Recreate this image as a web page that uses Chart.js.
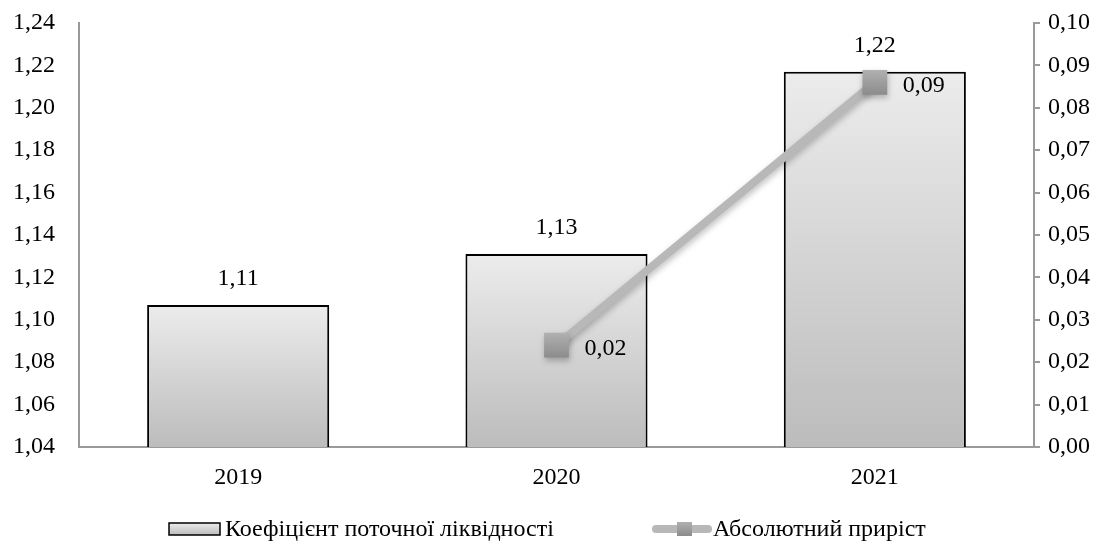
<!DOCTYPE html>
<html>
<head>
<meta charset="utf-8">
<script src="https://cdn.jsdelivr.net/npm/chart.js@4"></script>
<style>
  html, body { margin: 0; padding: 0; background: #fff; }
  #wrap { width: 1111px; height: 546px; }
</style>
</head>
<body>
<div id="wrap"><canvas id="chart" width="1111" height="546"></canvas></div>
<script>
const years = ['2019', '2020', '2021'];
const currentRatio = [1.107, 1.131, 1.217];
const absoluteGrowth = [null, 0.024, 0.086];
const currentRatioLabels = ['1,11', '1,13', '1,22'];
const growthLabels = ['', '0,02', '0,09'];
const barLegend = 'Коефіцієнт поточної ліквідності';
const lineLegend = 'Абсолютний приріст';

const FONT = '"Liberation Serif", "Times New Roman", serif';
const FSIZE = 24;
const fmt = (v, d) => v.toFixed(d).replace('.', ',');

function barGradient(ctx) {
    const chart = ctx.chart;
    const area = chart.chartArea;
    if (!area || ctx.raw == null) return '#d9d9d9';
    const top = chart.scales.y.getPixelForValue(ctx.raw);
    const g = chart.ctx.createLinearGradient(0, top, 0, area.bottom);
    g.addColorStop(0, '#ececec');
    g.addColorStop(1, '#bcbcbc');
    return g;
}

function markerGradient(ctx) {
    const chart = ctx.chart;
    if (!chart.chartArea || ctx.raw == null) return '#a0a0a0';
    const y = chart.scales.y1.getPixelForValue(ctx.raw);
    const g = chart.ctx.createLinearGradient(0, y - 12, 0, y + 12);
    g.addColorStop(0, '#b0b0b0');
    g.addColorStop(1, '#8c8c8c');
    return g;
}

// fixed axis sizes so the plot area sits where the reference has it
function fixWidth(w) {
    return scale => {
        scale.width = w;
        scale.paddingTop = 0;
        scale.paddingBottom = 0;
    };
}

// value labels and legend drawn by hand
const labelsPlugin = {
    id: 'labelsPlugin',
    beforeDatasetDraw(chart, args) {
        if (args.index !== 1) return;
        const c = chart.ctx;
        c.save();
        c.shadowColor = 'rgba(0,0,0,0.25)';
        c.shadowBlur = 6;
        c.shadowOffsetX = 1;
        c.shadowOffsetY = 3;
    },
    afterDatasetDraw(chart, args) {
        if (args.index === 1) chart.ctx.restore();
    },
    afterDatasetsDraw(chart) {
        const ctx = chart.ctx;
        ctx.save();
        ctx.font = FSIZE + 'px ' + FONT;
        ctx.fillStyle = '#000';
        ctx.textBaseline = 'middle';

        const bars = chart.getDatasetMeta(0).data;
        ctx.textAlign = 'center';
        bars.forEach((b, i) => {
            ctx.fillText(currentRatioLabels[i], b.x, b.y - 26);
        });

        const pts = chart.getDatasetMeta(1).data;
        ctx.textAlign = 'left';
        pts.forEach((p, i) => {
            if (absoluteGrowth[i] == null) return;
            ctx.fillText(growthLabels[i], p.x + 28, p.y + 3);
        });
        ctx.restore();
    },
    afterDraw(chart) {
        const ctx = chart.ctx;
        const ly = 529;
        ctx.save();
        // bar legend box
        const g = ctx.createLinearGradient(0, ly - 6, 0, ly + 6);
        g.addColorStop(0, '#ececec');
        g.addColorStop(1, '#bcbcbc');
        ctx.fillStyle = g;
        ctx.fillRect(169, ly - 6, 51, 12);
        ctx.strokeStyle = '#000';
        ctx.lineWidth = 1.5;
        ctx.strokeRect(169, ly - 6, 51, 12);

        // line legend
        ctx.strokeStyle = '#b8b8b8';
        ctx.lineWidth = 8;
        ctx.lineCap = 'round';
        ctx.beginPath();
        ctx.moveTo(656, ly);
        ctx.lineTo(708, ly);
        ctx.stroke();
        const mg = ctx.createLinearGradient(0, ly - 7, 0, ly + 7);
        mg.addColorStop(0, '#b0b0b0');
        mg.addColorStop(1, '#8c8c8c');
        ctx.fillStyle = mg;
        ctx.fillRect(677, ly - 7, 15, 14);

        ctx.font = FSIZE + 'px ' + FONT;
        ctx.fillStyle = '#000';
        ctx.textAlign = 'left';
        ctx.textBaseline = 'middle';
        ctx.fillText(barLegend, 225, ly + 1);
        ctx.fillText(lineLegend, 713, ly + 1);
        ctx.restore();
    }
};

const ctx = document.getElementById('chart').getContext('2d');
new Chart(ctx, {
    data: {
        labels: years,
        datasets: [
            {
                type: 'bar',
                label: barLegend,
                data: currentRatio,
                yAxisID: 'y',
                backgroundColor: barGradient,
                borderColor: '#000',
                borderWidth: 2,
                borderSkipped: 'bottom',
                barPercentage: 0.572,
                categoryPercentage: 1,
                order: 2
            },
            {
                type: 'line',
                label: lineLegend,
                data: absoluteGrowth,
                yAxisID: 'y1',
                borderColor: '#b8b8b8',
                borderWidth: 8,
                tension: 0,
                pointStyle: 'rect',
                pointRadius: 17.5,
                pointHoverRadius: 17.5,
                pointBackgroundColor: markerGradient,
                pointBorderColor: 'rgba(0,0,0,0)',
                pointBorderWidth: 0,
                order: 1
            }
        ]
    },
    options: {
        responsive: false,
        animation: false,
        layout: { padding: { top: 23, left: 0, right: 0, bottom: 0 } },
        plugins: {
            legend: { display: false },
            tooltip: { enabled: false }
        },
        scales: {
            x: {
                grid: { display: false, drawTicks: false },
                border: { display: true, color: '#9a9a9a', width: 2 },
                ticks: {
                    color: '#000',
                    font: { family: FONT, size: FSIZE },
                    padding: 16
                },
                afterFit(scale) {
                    scale.height = 99;
                    scale.paddingLeft = 0;
                    scale.paddingRight = 0;
                }
            },
            y: {
                position: 'left',
                min: 1.04,
                max: 1.24,
                grid: { display: false, drawTicks: false },
                border: { display: true, color: '#9a9a9a', width: 2 },
                ticks: {
                    stepSize: 0.02,
                    color: '#000',
                    padding: 24,
                    font: { family: FONT, size: FSIZE },
                    callback: v => fmt(v, 2)
                },
                afterFit: fixWidth(79)
            },
            y1: {
                position: 'right',
                min: 0,
                max: 0.1,
                grid: {
                    drawOnChartArea: false,
                    drawTicks: true,
                    tickLength: 6,
                    color: '#9a9a9a',
                    lineWidth: 2
                },
                border: { display: true, color: '#9a9a9a', width: 2 },
                ticks: {
                    stepSize: 0.01,
                    color: '#000',
                    padding: 8,
                    font: { family: FONT, size: FSIZE },
                    callback: v => fmt(v, 2)
                },
                afterFit: fixWidth(77)
            }
        }
    },
    plugins: [labelsPlugin]
});
</script>
</body>
</html>
